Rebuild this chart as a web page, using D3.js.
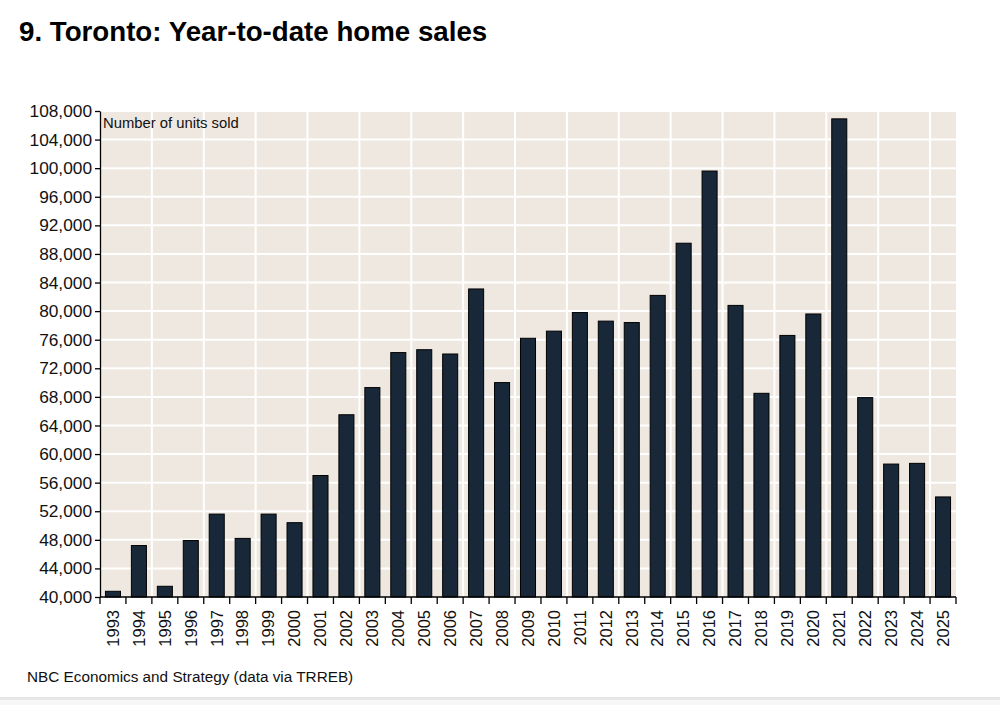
<!DOCTYPE html>
<html lang="en">
<head>
<meta charset="UTF-8">
<title>Toronto: Year-to-date home sales</title>
<script src="https://d3js.org/d3.v7.min.js"></script>
<style>
  body { margin: 0; background: #fff; }
  svg { display: block; font-family: "Liberation Sans", Arial, sans-serif; }
  .title { font-size: 27.7px; font-weight: bold; fill: #000; }
  .axis text { font-size: 16.5px; fill: #111; }
  .axis.y text { font-size: 17.3px; }
  .axis path, .axis line { stroke: #000; stroke-width: 1.3px; }
  .grid line { stroke: #fff; stroke-width: 2px; }
  .bar { fill: #182838; stroke: #000; stroke-width: 1px; }
</style>
</head>
<body>
<div id="chart"></div>
<script>
// Year-to-date home sales, number of units sold
const years = ["1993","1994","1995","1996","1997","1998","1999","2000","2001","2002",
  "2003","2004","2005","2006","2007","2008","2009","2010","2011","2012","2013",
  "2014","2015","2016","2017","2018","2019","2020","2021","2022","2023","2024","2025"];
const sales = [40800, 47200, 41500, 47900, 51600, 48200, 51600, 50400, 57000, 65500,
  69300, 74200, 74600, 74000, 83100, 70000, 76200, 77200, 79800, 78600, 78400,
  82200, 89500, 99600, 80800, 68500, 76600, 79600, 106900, 67900, 58600, 58700, 54000];
const yTicks = d3.range(40000, 108001, 4000);

const width = 1000, height = 705;
const margin = { top: 111, right: 44, bottom: 108, left: 100 };
const innerW = width - margin.left - margin.right;
const innerH = height - margin.top - margin.bottom;

const svg = d3.select("#chart").append("svg")
    .attr("width", width)
    .attr("height", height);

svg.append("text")
    .attr("class", "title")
    .attr("x", 19)
    .attr("y", 41)
    .text("9. Toronto: Year-to-date home sales");

const g = svg.append("g")
    .attr("transform", `translate(${margin.left},${margin.top})`);

const x = d3.scaleBand()
    .domain(years)
    .range([0, innerW])
    .paddingInner(0.42)
    .paddingOuter(0.21);

const y = d3.scaleLinear()
    .domain([40000, 108000])
    .range([innerH, 0]);

const step = x.step();
const edge = d => x(d) - step * x.paddingOuter();   // left boundary of a category

// plot background
g.append("rect")
    .attr("width", innerW)
    .attr("height", innerH)
    .attr("fill", "#eee8e1");

// grid
const grid = g.append("g").attr("class", "grid");
grid.selectAll(".h")
    .data(yTicks.slice(1))
    .enter().append("line")
    .attr("x1", 0).attr("x2", innerW)
    .attr("y1", d => y(d)).attr("y2", d => y(d));
grid.selectAll(".v")
    .data(years.filter((d, i) => i > 0 && i % 2 === 0))
    .enter().append("line")
    .attr("x1", d => edge(d)).attr("x2", d => edge(d))
    .attr("y1", 0).attr("y2", innerH);

// bars
g.selectAll(".bar")
    .data(years.map((d, i) => ({ year: d, value: sales[i] })))
    .enter().append("rect")
    .attr("class", "bar")
    .attr("x", d => x(d.year))
    .attr("width", x.bandwidth())
    .attr("y", d => y(d.value))
    .attr("height", d => y(40000) - y(d.value));

// y axis
g.append("g")
    .attr("class", "axis y")
    .call(d3.axisLeft(y).tickValues(yTicks).tickFormat(d3.format(",")).tickSize(5).tickPadding(3).tickSizeOuter(0));

// x axis: ticks on category boundaries, labels centered & rotated
const xAxis = g.append("g")
    .attr("class", "axis")
    .attr("transform", `translate(0,${innerH})`);
xAxis.append("line")
    .attr("x1", 0).attr("x2", innerW);
xAxis.selectAll(".tick")
    .data(d3.range(years.length + 1))
    .enter().append("line")
    .attr("x1", i => i * step).attr("x2", i => i * step)
    .attr("y1", 0).attr("y2", 7);
xAxis.selectAll(".lbl")
    .data(years)
    .enter().append("text")
    .attr("transform", d => `translate(${x(d) + x.bandwidth() / 2},${13}) rotate(-90)`)
    .attr("dy", "0.35em")
    .attr("text-anchor", "end")
    .text(d => d);

g.append("text")
    .attr("x", 3)
    .attr("y", 17)
    .style("font-size", "14.8px")
    .attr("fill", "#111")
    .text("Number of units sold");

svg.append("text")
    .attr("x", 27)
    .attr("y", 682)
    .style("font-size", "15.3px")
    .attr("fill", "#111")
    .text("NBC Economics and Strategy (data via TRREB)");

// bottom edge band
svg.append("rect")
    .attr("x", 0).attr("y", 697)
    .attr("width", width).attr("height", 3)
    .attr("fill", "#e6e6e6");
svg.append("rect")
    .attr("x", 0).attr("y", 700)
    .attr("width", width).attr("height", 5)
    .attr("fill", "#f7f7f7");
</script>
</body>
</html>
